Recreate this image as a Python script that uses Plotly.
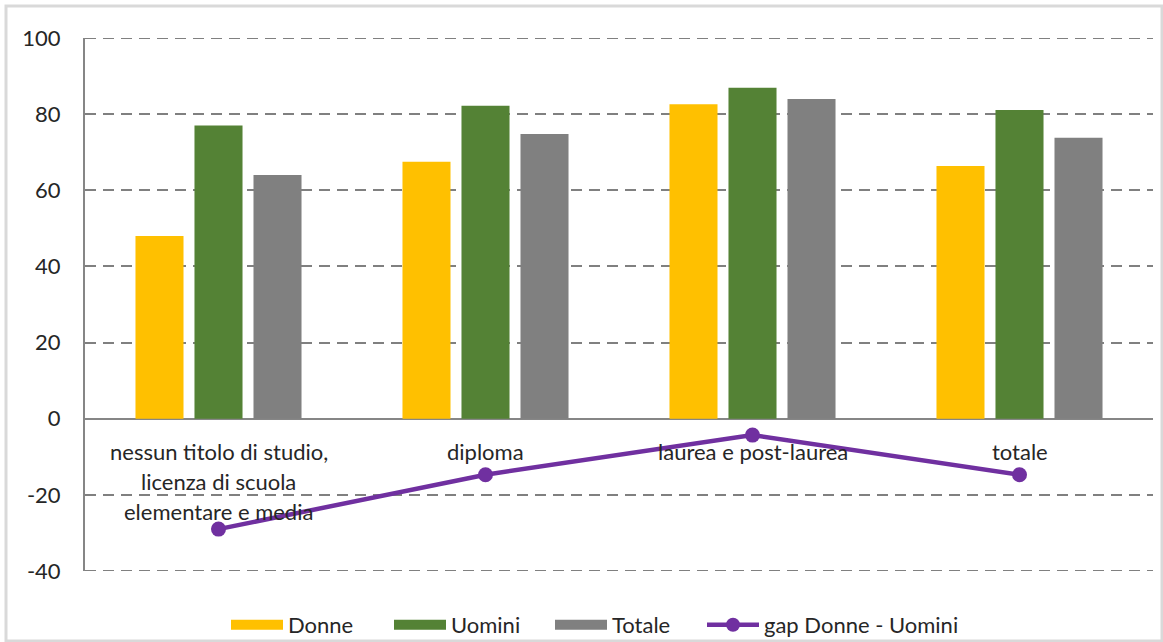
import plotly.graph_objects as go

# Tasso di occupazione per titolo di studio e genere
categorie = ["nessun titolo di studio,<br>licenza di scuola<br>elementare e media",
             "diploma", "laurea e post-laurea", "totale"]
donne = [48.0, 67.5, 82.6, 66.4]
uomini = [77.0, 82.2, 86.9, 81.1]
totale = [64.0, 74.8, 84.0, 73.8]
gap = [-29.0, -14.7, -4.3, -14.7]
tick_vals = [-40, -20, 0, 20, 40, 60, 80, 100]
tick_text = ["-40", "-20", "0", "20", "40", "60", "80", "100"]

FONT = "Lato"
TXT = "#262626"
GRID = "#808080"
DASH = "11px,7px"
C_DONNE, C_UOMINI, C_TOT, C_GAP = "#FFC000", "#548235", "#808080", "#7030A0"

# plot area in pixels: left 85, right 1153, top 38, bottom 571
PW, PH = 1068, 533

fig = go.Figure()
for nome, vals, col in [("Donne", donne, C_DONNE), ("Uomini", uomini, C_UOMINI), ("Totale", totale, C_TOT)]:
    fig.add_trace(go.Bar(x=categorie, y=vals, name=nome, marker_color=col,
                         marker_line_width=0, showlegend=False))
fig.add_trace(go.Scatter(x=categorie, y=gap, name="gap Donne - Uomini", mode="lines+markers",
                         line=dict(color=C_GAP, width=4.5), marker=dict(size=15, color=C_GAP),
                         showlegend=False))

# one legend per entry so each can be placed on its own
legend_items = [("Donne", C_DONNE, 226), ("Uomini", C_UOMINI, 389), ("Totale", C_TOT, 550)]
legend_layout = {}
for k, (nome, col, px) in enumerate(legend_items):
    lname = "legend" if k == 0 else f"legend{k + 1}"
    fig.add_trace(go.Scatter(x=[None], y=[None], mode="lines", name=nome, legend=lname,
                             line=dict(color=col, width=16)))
    legend_layout[lname] = px
fig.add_trace(go.Scatter(x=[None], y=[None], mode="lines+markers", name="gap Donne - Uomini",
                         legend="legend4",
                         line=dict(color=C_GAP, width=4.5), marker=dict(size=14, color=C_GAP)))
legend_layout["legend4"] = 702

for lname, px in legend_layout.items():
    fig.update_layout({lname: dict(orientation="h", x=(px - 85) / PW, xanchor="left",
                                   y=-54 / PH, yanchor="middle", bgcolor="rgba(0,0,0,0)",
                                   itemwidth=52, font=dict(family=FONT, size=22, color=TXT),
                                   itemclick=False)})

# category labels sit just under the zero line
for cat in categorie:
    for j, riga in enumerate(cat.split("<br>")):
        fig.add_annotation(x=cat, y=0, xref="x", yref="y", text=riga, showarrow=False,
                           yanchor="top", yshift=-17 - 30 * j,
                           font=dict(family=FONT, size=22, color=TXT))

# dashed gridlines at the two ends of the value axis
shapes = [dict(type="line", xref="paper", yref="y", x0=0, x1=1, y0=v, y1=v,
               line=dict(color=GRID, width=2, dash=DASH), layer="below")
          for v in (tick_vals[0], tick_vals[-1])]
# light frame around the whole chart
shapes.append(dict(type="rect", xref="paper", yref="paper",
                   x0=(6 - 85) / PW, x1=(1162 - 85) / PW,
                   y0=(571 - 641) / PH, y1=(571 - 6) / PH,
                   line=dict(color="#d9d9d9", width=3), fillcolor="rgba(0,0,0,0)", layer="below"))

fig.update_layout(
    width=1163, height=642,
    margin=dict(l=85, r=10, t=38, b=71, autoexpand=False),
    paper_bgcolor="white", plot_bgcolor="white",
    barmode="group", bargap=0.337, bargroupgap=0.186,
    font=dict(family=FONT, size=22, color=TXT),
    shapes=shapes,
)
fig.update_xaxes(showticklabels=False, showgrid=False, showline=False, zeroline=False,
                 ticks="")
fig.update_yaxes(range=[-40, 100], tickvals=tick_vals, ticktext=tick_text, showgrid=True,
                 gridcolor=GRID, gridwidth=2, griddash=DASH,
                 zeroline=True, zerolinecolor="#868686", zerolinewidth=2,
                 showline=True, linecolor="#868686", linewidth=2,
                 ticks="", ticklabelstandoff=18,
                 tickfont=dict(family=FONT, size=22, color=TXT))

fig.write_html("out.html")
